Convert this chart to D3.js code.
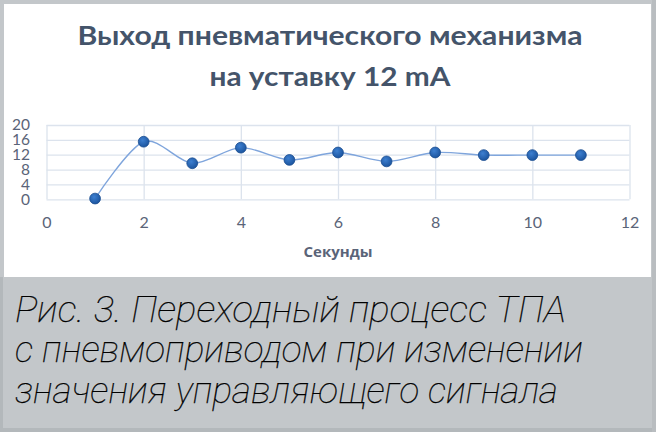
<!DOCTYPE html>
<html>
<head>
<meta charset="utf-8">
<script src="https://cdn.jsdelivr.net/npm/d3@7"></script>
<style>
  html, body { margin: 0; padding: 0; background: #c3c7ca; }
  svg { display: block; }
</style>
</head>
<body>
<svg id="chart" width="656" height="432"></svg>
<script>
// data
const seconds = [1, 2, 3, 4, 5, 6, 7, 8, 9, 10, 11];
const output = [0.2, 15.5, 9.7, 13.9, 10.6, 12.6, 10.2, 12.6, 11.9, 11.9, 11.9];
const xTicks = [0, 2, 4, 6, 8, 10, 12];
const yTicks = [0, 4, 8, 12, 16, 20];
const titleLines = ["Выход пневматического механизма", "на уставку 12 mA"];
const xTitle = "Секунды";
const captionLines = ["Рис. 3. Переходный процесс ТПА", "с пневмоприводом при изменении", "значения управляющего сигнала"];

const W = 656, H = 432;
const svg = d3.select("#chart");

// frame: grey page, white chart box, grey caption box
svg.append("rect").attr("width", W).attr("height", H).attr("fill", "#c3c7ca");
svg.append("rect").attr("x", 0).attr("y", 277).attr("width", 3).attr("height", H - 277).attr("fill", "#b3b8bb");
svg.append("rect").attr("x", 0).attr("y", 428).attr("width", W).attr("height", 4).attr("fill", "#b3b8bb");
svg.append("rect").attr("x", 652).attr("y", 0).attr("width", 4).attr("height", H).attr("fill", "#b9bdc0");
svg.append("rect").attr("x", 4).attr("y", 4).attr("width", 647).attr("height", 273).attr("fill", "#ffffff");

const x = d3.scaleLinear().domain([0, 12]).range([46.5, 629.5]);
const y = d3.scaleLinear().domain([0, 20]).range([199.3, 125]);

// gridlines
svg.append("g")
  .attr("transform", `translate(0,${y(0)})`)
  .call(d3.axisBottom(x).tickValues(xTicks).tickSize(-(y(0) - y(20))).tickFormat(""))
  .call(g => g.select(".domain").remove())
  .call(g => g.selectAll("line").attr("stroke", "#dce3ed").attr("stroke-width", 1.3));
svg.append("g")
  .attr("transform", `translate(${x(0)},0)`)
  .call(d3.axisLeft(y).tickValues(yTicks).tickSize(-(x(12) - x(0))).tickFormat(""))
  .call(g => g.select(".domain").remove())
  .call(g => g.selectAll("line").attr("stroke", "#dce3ed").attr("stroke-width", 1.3));

// axis labels
const tickFont = "Lato, 'Open Sans', sans-serif";
svg.append("g")
  .attr("transform", `translate(0,${y(0)})`)
  .call(d3.axisBottom(x).tickValues(xTicks).tickSize(0).tickPadding(17))
  .call(g => g.select(".domain").remove())
  .call(g => g.selectAll("text").attr("font-family", tickFont).attr("font-size", 16).attr("fill", "#5a6478"));
svg.append("g")
  .attr("transform", `translate(30,0)`)
  .call(d3.axisLeft(y).tickValues(yTicks).tickSize(0).tickPadding(0))
  .call(g => g.select(".domain").remove())
  .call(g => g.selectAll("text").attr("font-family", tickFont).attr("font-size", 15.5).attr("fill", "#5a6478"));

svg.append("text")
  .attr("x", 338).attr("y", 257)
  .attr("text-anchor", "middle")
  .attr("font-family", "'Open Sans', sans-serif").attr("font-weight", 700)
  .attr("font-size", 15).attr("fill", "#5a6478")
  .text(xTitle);

// title
const titleBase = [44.6, 85.5];
const titleWidth = [505, 241];
titleLines.forEach((t, i) => {
  svg.append("text")
    .attr("x", 330).attr("y", titleBase[i])
    .attr("text-anchor", "middle")
    .attr("font-family", "Lato, 'Open Sans', sans-serif").attr("font-weight", 700)
    .attr("font-size", 27.5).attr("fill", "#44546a")
    .attr("textLength", titleWidth[i]).attr("lengthAdjust", "spacingAndGlyphs")
    .text(t);
});

// series
const defs = svg.append("defs");
const grad = defs.append("radialGradient").attr("id", "dot").attr("cx", "40%").attr("cy", "35%").attr("r", "65%");
grad.append("stop").attr("offset", "0%").attr("stop-color", "#3d7fd0");
grad.append("stop").attr("offset", "100%").attr("stop-color", "#1c559f");

const pts = seconds.map((s, i) => ({ s, v: output[i] }));
const line = d3.line().x(d => x(d.s)).y(d => y(d.v)).curve(d3.curveCardinal.tension(0.1));
svg.append("path")
  .datum(pts)
  .attr("d", line)
  .attr("fill", "none")
  .attr("stroke", "#7fa5dc")
  .attr("stroke-width", 1.4);

svg.selectAll("circle.pt").data(pts).enter().append("circle")
  .attr("class", "pt")
  .attr("cx", d => x(d.s)).attr("cy", d => y(d.v))
  .attr("r", 5.4)
  .attr("fill", "url(#dot)")
  .attr("stroke", "#1a4d8f").attr("stroke-width", 0.8);

// caption
const capBase = [322, 362, 403];
const capWidth = [551, 568, 543];
captionLines.forEach((t, i) => {
  svg.append("text")
    .attr("x", 15).attr("y", capBase[i])
    .attr("font-family", "Roboto, 'Liberation Sans', sans-serif")
    .attr("font-weight", 100).attr("font-style", "italic")
    .attr("font-size", 37.5).attr("fill", "#000000")
    .attr("stroke", "#000000").attr("stroke-width", 0.25)
    .attr("textLength", capWidth[i]).attr("lengthAdjust", "spacingAndGlyphs")
    .text(t);
});
</script>
</body>
</html>
